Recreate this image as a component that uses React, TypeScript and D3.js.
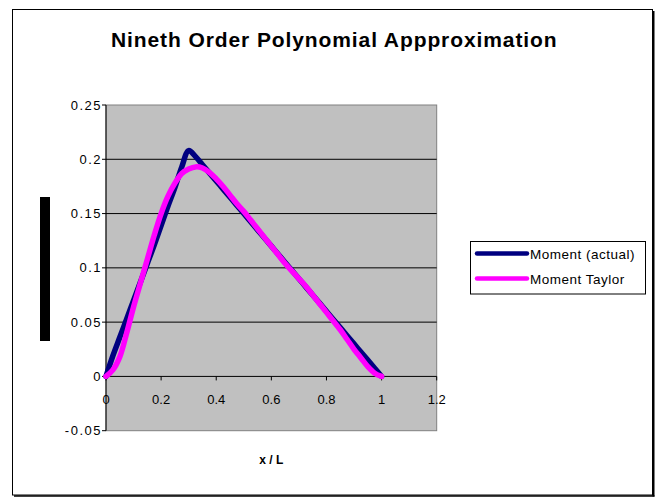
import React from "react";
import * as d3 from "d3";

const xValues = [0, 0.025, 0.05, 0.075, 0.1, 0.125, 0.15, 0.175, 0.2, 0.225, 0.25, 0.275, 0.3, 0.325, 0.35, 0.375, 0.4, 0.425, 0.45, 0.475, 0.5, 0.525, 0.55, 0.575, 0.6, 0.625, 0.65, 0.675, 0.7, 0.725, 0.75, 0.775, 0.8, 0.825, 0.85, 0.875, 0.9, 0.925, 0.95, 0.975, 1.0];
const momentActual = [0, 0.019, 0.036, 0.053, 0.07, 0.087, 0.104, 0.121, 0.139, 0.157, 0.174, 0.193, 0.208, 0.2025, 0.195, 0.1875, 0.18, 0.1725, 0.165, 0.1575, 0.15, 0.1425, 0.135, 0.1275, 0.12, 0.1125, 0.105, 0.0975, 0.09, 0.0825, 0.075, 0.0675, 0.06, 0.0525, 0.045, 0.0375, 0.03, 0.0225, 0.015, 0.0075, 0];
const momentTaylor = [0, 0.006, 0.018, 0.04, 0.064, 0.086, 0.108, 0.13, 0.15, 0.166, 0.178, 0.187, 0.191, 0.193, 0.192, 0.188, 0.182, 0.175, 0.167, 0.159, 0.152, 0.144, 0.136, 0.128, 0.12, 0.112, 0.104, 0.097, 0.09, 0.083, 0.075, 0.067, 0.059, 0.051, 0.043, 0.034, 0.025, 0.017, 0.009, 0.003, 0];
const xTicks = [0, 0.2, 0.4, 0.6, 0.8, 1, 1.2];
const yTicks = [-0.05, 0, 0.05, 0.1, 0.15, 0.2, 0.25];
const seriesNames = ["Moment (actual)", "Moment Taylor"];
const seriesColors = ["#000080", "#FF00FF"];
const title = "Nineth Order Polynomial Appproximation";
const xTitle = "x / L";

export default function App() {
  const left = 106, right = 436.7, top = 105, bottom = 430.7;
  const x = d3.scaleLinear().domain([0, 1.2]).range([left, right]);
  const y = d3.scaleLinear().domain([-0.05, 0.25]).range([bottom, top]);
  const actualLine = d3.line<number>().x((_, i) => x(xValues[i])).y((d) => y(d)).curve(d3.curveCatmullRom);
  const taylorLine = d3.line<number>().x((_, i) => x(xValues[i])).y((d) => y(d)).curve(d3.curveCatmullRom);
  const font = "Arial, 'Liberation Sans', sans-serif";
  return (
    <svg width={660} height={500} style={{ position: "absolute", left: 0, top: 0, background: "#fff" }} fontFamily={font}>
      <rect x={0} y={0} width={660} height={500} fill="#fff" />
      <rect x={12.5} y={9.5} width={640} height={485.5} fill="#fff" stroke="#000" strokeWidth={1} />
      <line x1={653.5} y1={11} x2={653.5} y2={496.5} stroke="#000" strokeWidth={2} />
      <line x1={14} y1={496} x2={654.5} y2={496} stroke="#000" strokeWidth={1.5} />
      <text x={111} y={47} fontSize={21} fontWeight="bold" letterSpacing={0.9}>{title}</text>
      <rect x={left} y={top} width={right - left} height={bottom - top} fill="#C0C0C0" stroke="#808080" strokeWidth={1} />
      {yTicks.filter((t) => t > 0 && t < 0.25).map((t) => (
        <line key={"g" + t} x1={left} x2={right} y1={y(t)} y2={y(t)} stroke="#000" strokeWidth={1} />
      ))}
      <line x1={left} x2={left} y1={top} y2={bottom} stroke="#000" strokeWidth={1} />
      {yTicks.map((t) => (
        <g key={"y" + t}>
          <line x1={left - 4} x2={left} y1={y(t)} y2={y(t)} stroke="#000" strokeWidth={1} />
          <text x={102} y={y(t) + 4.5} fontSize={13} textAnchor="end" letterSpacing={1.5}>{String(t)}</text>
        </g>
      ))}
      <line x1={left} x2={right} y1={y(0)} y2={y(0)} stroke="#000" strokeWidth={1} />
      {xTicks.map((t) => (
        <g key={"x" + t}>
          <line x1={x(t)} x2={x(t)} y1={y(0)} y2={y(0) + 4} stroke="#000" strokeWidth={1} />
          <text x={x(t)} y={y(0) + 28} fontSize={13} textAnchor="middle">{String(t)}</text>
        </g>
      ))}
      <path d={actualLine(momentActual) || ""} fill="none" stroke={seriesColors[0]} strokeWidth={5.5} strokeLinejoin="round" strokeLinecap="round" />
      <path d={taylorLine(momentTaylor) || ""} fill="none" stroke={seriesColors[1]} strokeWidth={5.5} strokeLinejoin="round" strokeLinecap="round" />
      <text x={(left + right) / 2} y={464} fontSize={12} fontWeight="bold" textAnchor="middle">{xTitle}</text>
      <rect x={40} y={197} width={10} height={144} fill="#000" />
      <rect x={470.5} y={241.5} width={175} height={52.5} fill="#fff" stroke="#000" strokeWidth={1} />
      {seriesNames.map((n, i) => (
        <g key={n}>
          <line x1={477} x2={527} y1={253.5 + i * 25} y2={253.5 + i * 25} stroke={seriesColors[i]} strokeWidth={4.5} strokeLinecap="round" />
          <text x={530} y={258.5 + i * 25} fontSize={13.5} letterSpacing={0.5}>{n}</text>
        </g>
      ))}
    </svg>
  );
}
